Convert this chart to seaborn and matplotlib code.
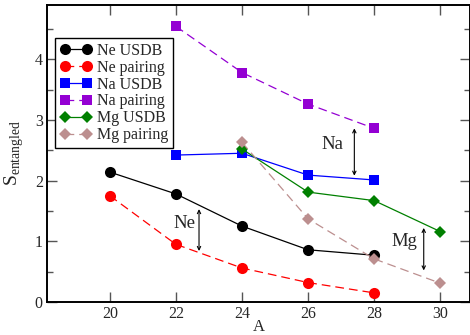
import numpy as np
import pandas as pd
import seaborn as sns
import matplotlib.pyplot as plt


# data
ne_a = [20, 22, 24, 26, 28]
ne_usdb = [2.14, 1.78, 1.25, 0.86, 0.77]
ne_pairing = [1.75, 0.95, 0.56, 0.32, 0.15]

na_a = [22, 24, 26, 28]
na_usdb = [2.42, 2.45, 2.09, 2.01]
na_pairing = [4.54, 3.78, 3.26, 2.86]

mg_a = [24, 26, 28, 30]
mg_usdb = [2.52, 1.81, 1.67, 1.16]
mg_pairing = [2.63, 1.37, 0.71, 0.31]

labels = ["Ne USDB", "Ne pairing", "Na USDB", "Na pairing", "Mg USDB", "Mg pairing"]
colors = ["black", "red", "blue", "#9400d3", "#008000", "#bc8f8f"]
markers = ["o", "o", "s", "s", "D", "D"]
msizes = [8, 8, 6.8, 6.8, 5.8, 5.8]
xs = [ne_a, ne_a, na_a, na_a, mg_a, mg_a]
ys = [ne_usdb, ne_pairing, na_usdb, na_pairing, mg_usdb, mg_pairing]

# arrows: (label, text x, text y, arrow x, y top, y bottom)
gaps = [("Ne", 22.25, 1.3, 22.7, 1.53, 0.84),
        ("Na", 26.75, 2.6, 27.4, 2.86, 2.08),
        ("Mg", 28.9, 1.0, 29.5, 1.22, 0.52)]


sns.set_style("ticks")
plt.rcParams['font.family'] = ['Liberation Serif', 'DejaVu Serif']
plt.rcParams['mathtext.fontset'] = 'custom'
plt.rcParams['mathtext.rm'] = 'Liberation Serif'

fig = plt.figure(figsize=(4.7, 3.35), dpi=100)
ax = fig.add_axes([47 / 470, 33 / 335, 423 / 470, 297.5 / 335])

for i in range(len(labels)):
    df = pd.DataFrame({"A": xs[i], "S": ys[i]})
    dashed = "pairing" in labels[i]
    sns.lineplot(data=df, x="A", y="S", ax=ax, color=colors[i], marker=markers[i],
                 markersize=msizes[i], markeredgewidth=0, linewidth=0.9,
                 linestyle="--" if dashed else "-", label=labels[i])
    if dashed:
        ax.lines[-1].set_dashes((7, 4))

for name, tx, ty, axx, y0, y1 in gaps:
    ax.annotate("", xy=(axx, y1), xytext=(axx, y0),
                arrowprops=dict(arrowstyle="<->", color="black", lw=0.8,
                                shrinkA=0, shrinkB=0, mutation_scale=6))
    ax.text(tx, ty, name, fontsize=13.5, ha="center", va="center")

ax.set_xlim(18.1, 30.9)
ax.set_ylim(0, 4.9)
ax.set_xticks([20, 22, 24, 26, 28, 30])
ax.set_yticks([0, 1, 2, 3, 4])
ax.set_yticks(np.arange(0.5, 4.9, 1.0), minor=True)
ax.tick_params(which="both", direction="in", top=True, right=True, labelsize=11.5,
               color="#555555", width=1)
ax.tick_params(which="major", length=7, pad=3)
ax.tick_params(which="minor", length=4)
for sp in ax.spines.values():
    sp.set_linewidth(1.4)
    sp.set_color("black")

ax.set_xlabel("A", fontsize=12, labelpad=-2.5)
ax.set_ylabel(r"S$_{\rm entangled}$", fontsize=14, labelpad=6)

leg = ax.legend(loc="upper left", bbox_to_anchor=(0.019, 0.888), borderaxespad=0,
                numpoints=2, handlelength=2.0, handletextpad=0.3, labelspacing=0.06,
                fontsize=11.5, fancybox=False, framealpha=1, borderpad=0.3)
leg.get_frame().set_edgecolor("black")
leg.get_frame().set_linewidth(1.0)

fig.savefig("out.png", dpi=100)
